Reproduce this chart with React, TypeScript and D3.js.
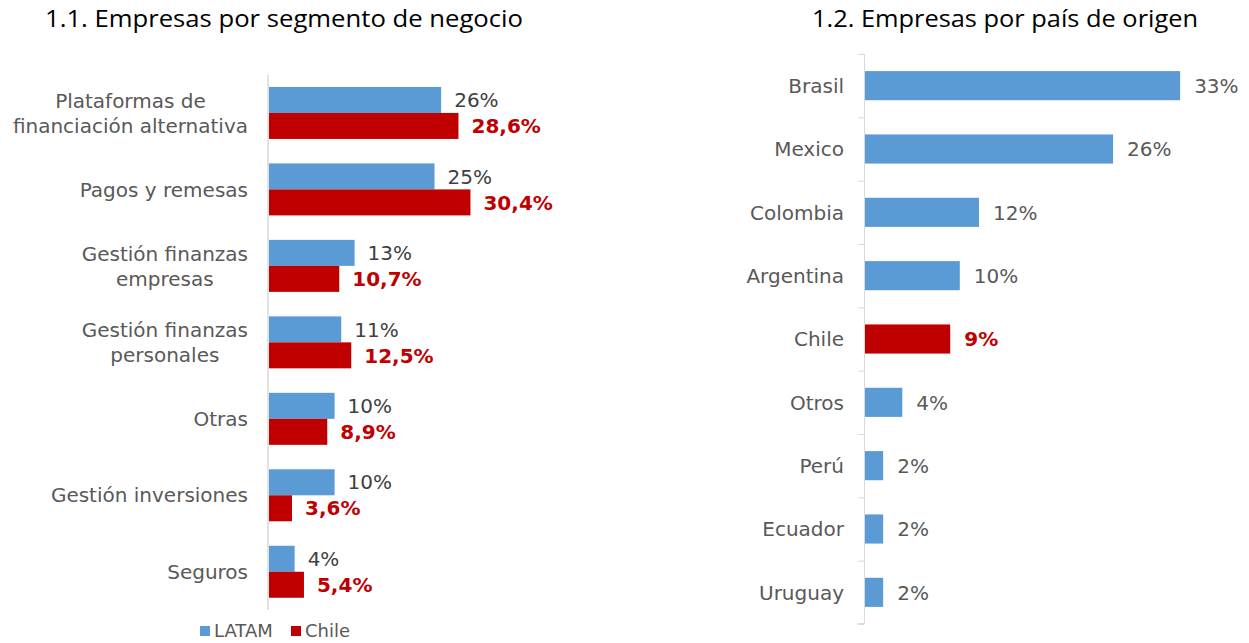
import React, { useRef, useEffect } from 'react';
import * as d3 from 'd3';

// 1.1 segmentos
const segments = [
  'Plataformas de\nfinanciación alternativa',
  'Pagos y remesas',
  'Gestión finanzas\nempresas',
  'Gestión finanzas\npersonales',
  'Otras',
  'Gestión inversiones',
  'Seguros',
];
const latamValues = [26, 25, 13, 11, 10, 10, 4];
const chileValues = [28.6, 30.4, 10.7, 12.5, 8.9, 3.6, 5.4];
const seriesNames = ['LATAM', 'Chile'];

// 1.2 países
const countries = ['Brasil', 'Mexico', 'Colombia', 'Argentina', 'Chile', 'Otros', 'Perú', 'Ecuador', 'Uruguay'];
const countryValues = [33, 26, 12, 10, 9, 4, 2, 2, 2];

const BLUE = '#5B9BD5';
const RED = '#C00000';
const AXIS = '#D9D9D9';
const LABEL_FONT = '"DejaVu Sans", Verdana, sans-serif';

const App = () => {
  const ref = useRef<SVGSVGElement>(null);

  useEffect(() => {
    if (!ref.current) return;
    const svg = d3.select(ref.current);
    svg.selectAll('*').remove();

    const es = d3.formatLocale({ decimal: ',', thousands: '.', grouping: [3], currency: ['', '€'] });
    const fmt1 = es.format('.1f');

    // titles
    const titles = [
      { text: '1.1. Empresas por segmento de negocio', x: 284, w: 478 },
      { text: '1.2. Empresas por país de origen', x: 1005, w: 386 },
    ];
    svg.selectAll('text.title')
      .data(titles)
      .join('text')
      .attr('class', 'title')
      .attr('x', d => d.x)
      .attr('y', 27)
      .attr('text-anchor', 'middle')
      .attr('textLength', d => d.w)
      .attr('lengthAdjust', 'spacingAndGlyphs')
      .style('font-family', '"Open Sans", sans-serif')
      .style('font-size', '24px')
      .attr('fill', '#000')
      .text(d => d.text);

    // ---------- left chart ----------
    const lx0 = 268;
    const x1 = d3.scaleLinear().domain([0, 1]).range([lx0, lx0 + 6.66]);
    const y1 = d3.scaleBand().domain(segments).range([74.7, 610]).paddingInner(0.32).paddingOuter(0.16);
    const ySub = d3.scaleBand().domain(seriesNames).range([0, y1.bandwidth()]);

    const left = svg.append('g');
    left.append('line')
      .attr('x1', lx0).attr('x2', lx0)
      .attr('y1', 74.7).attr('y2', 610)
      .attr('stroke', AXIS).attr('stroke-width', 1.5);

    const groups = left.selectAll('g.grp')
      .data(segments.map((s, i) => ({ s, vals: [latamValues[i], chileValues[i]] })))
      .join('g')
      .attr('class', 'grp')
      .attr('transform', d => `translate(0,${y1(d.s)})`);

    groups.selectAll('rect')
      .data(d => d.vals.map((v, j) => ({ v, name: seriesNames[j] })))
      .join('rect')
      .attr('x', lx0 + 1)
      .attr('y', d => ySub(d.name)!)
      .attr('width', d => x1(d.v) - lx0 - 1)
      .attr('height', ySub.bandwidth())
      .attr('fill', d => (d.name === 'LATAM' ? BLUE : RED));

    groups.selectAll('text.val')
      .data(d => d.vals.map((v, j) => ({ v, name: seriesNames[j] })))
      .join('text')
      .attr('class', 'val')
      .attr('x', d => x1(d.v) + 13)
      .attr('y', d => ySub(d.name)! + ySub.bandwidth() / 2)
      .attr('dy', '0.36em')
      .style('font-family', LABEL_FONT)
      .style('font-size', '20px')
      .style('font-weight', d => (d.name === 'Chile' ? 'bold' : 'normal'))
      .attr('fill', d => (d.name === 'Chile' ? RED : '#404040'))
      .text(d => (d.name === 'Chile' ? fmt1(d.v) + '%' : d.v + '%'));

    // category labels (centered block, right-aligned at 248)
    segments.forEach(s => {
      const lines = s.split('\n');
      const cy = y1(s)! + y1.bandwidth() / 2;
      const t = left.append('text')
        .style('font-family', LABEL_FONT)
        .style('font-size', '20px')
        .attr('fill', '#595959')
        .attr('text-anchor', 'middle');
      lines.forEach((ln, k) => {
        t.append('tspan')
          .attr('x', 0)
          .attr('y', cy + (k - (lines.length - 1) / 2) * 25)
          .attr('dy', '0.36em')
          .text(ln);
      });
      const w = (t.node() as SVGTextElement).getBBox().width;
      t.selectAll('tspan').attr('x', 248 - w / 2);
    });

    // legend
    const legend = svg.append('g').attr('transform', 'translate(200,631)');
    const legendX = [0, 91];
    seriesNames.forEach((n, i) => {
      legend.append('rect')
        .attr('x', legendX[i]).attr('y', -5)
        .attr('width', 10).attr('height', 10)
        .attr('fill', i === 0 ? BLUE : RED);
      legend.append('text')
        .attr('x', legendX[i] + 14).attr('y', 0).attr('dy', '0.36em')
        .style('font-family', LABEL_FONT)
        .style('font-size', '18px')
        .attr('fill', '#595959')
        .text(n);
    });

    // ---------- right chart ----------
    const rx0 = 864;
    const x2 = d3.scaleLinear().domain([0, 1]).range([rx0, rx0 + 9.58]);
    const y2 = d3.scaleBand().domain(countries).range([54, 624]).paddingInner(0.54).paddingOuter(0.27);

    const right = svg.append('g');
    right.append('g')
      .attr('transform', `translate(${rx0},0)`)
      .call(
        d3.axisLeft(d3.scaleLinear().domain([0, countries.length]).range([54, 624]))
          .ticks(countries.length)
          .tickSize(6)
          .tickFormat(() => '')
      )
      .call(g => g.selectAll('line').attr('stroke', AXIS))
      .call(g => g.select('.domain').attr('stroke', AXIS).attr('d', 'M-6,54.5H0.5V623.5H-6'));

    right.selectAll('rect')
      .data(countries.map((c, i) => ({ c, v: countryValues[i] })))
      .join('rect')
      .attr('x', rx0 + 1)
      .attr('y', d => y2(d.c)!)
      .attr('width', d => x2(d.v) - rx0 - 1)
      .attr('height', y2.bandwidth())
      .attr('fill', d => (d.c === 'Chile' ? RED : BLUE));

    right.selectAll('text.val')
      .data(countries.map((c, i) => ({ c, v: countryValues[i] })))
      .join('text')
      .attr('class', 'val')
      .attr('x', d => x2(d.v) + 14)
      .attr('y', d => y2(d.c)! + y2.bandwidth() / 2)
      .attr('dy', '0.36em')
      .style('font-family', LABEL_FONT)
      .style('font-size', '20px')
      .style('font-weight', d => (d.c === 'Chile' ? 'bold' : 'normal'))
      .attr('fill', d => (d.c === 'Chile' ? RED : '#595959'))
      .text(d => d.v + '%');

    right.selectAll('text.cat')
      .data(countries)
      .join('text')
      .attr('class', 'cat')
      .attr('x', 844)
      .attr('y', d => y2(d)! + y2.bandwidth() / 2)
      .attr('dy', '0.36em')
      .attr('text-anchor', 'end')
      .style('font-family', LABEL_FONT)
      .style('font-size', '20px')
      .attr('fill', '#595959')
      .text(d => d);
  }, []);

  return (
    <svg
      ref={ref}
      width="1249"
      height="643"
      style={{ position: 'absolute', left: 0, top: 0, background: '#fff' }}
    ></svg>
  );
};

export default App;
